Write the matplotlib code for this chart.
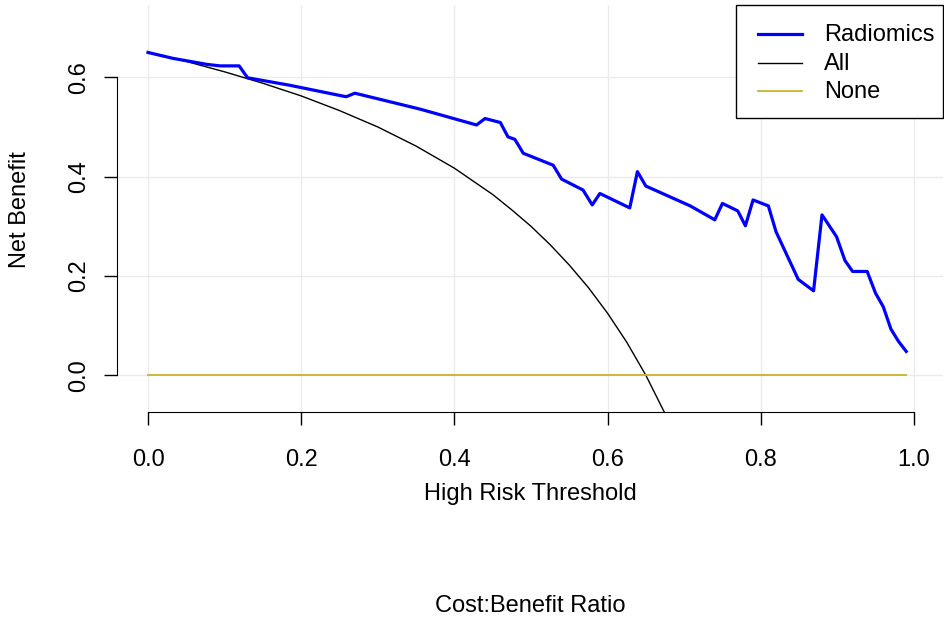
import matplotlib.pyplot as plt
import numpy as np
from matplotlib.patches import Rectangle
from matplotlib.lines import Line2D

plt.rcParams['font.family'] = ['Liberation Sans', 'DejaVu Sans']

# threshold probabilities and net benefit of the radiomics model
thr_model = [0.00, 0.033, 0.077, 0.094, 0.119, 0.130, 0.185, 0.255, 0.259, 0.270,
             0.355, 0.429, 0.440, 0.460, 0.470, 0.479, 0.490, 0.529, 0.540, 0.568,
             0.580, 0.590, 0.629, 0.639, 0.650, 0.679, 0.708, 0.740, 0.750, 0.770,
             0.780, 0.790, 0.810, 0.820, 0.849, 0.869, 0.880, 0.899, 0.910, 0.920,
             0.939, 0.950, 0.960, 0.970, 0.980, 0.990]
nb_model = [0.650, 0.638, 0.626, 0.623, 0.623, 0.599, 0.584, 0.562, 0.561, 0.568,
            0.536, 0.504, 0.517, 0.509, 0.480, 0.475, 0.447, 0.423, 0.395, 0.373,
            0.343, 0.366, 0.337, 0.410, 0.381, 0.361, 0.341, 0.313, 0.346, 0.331,
            0.301, 0.353, 0.341, 0.289, 0.193, 0.170, 0.323, 0.279, 0.231, 0.209,
            0.209, 0.165, 0.138, 0.093, 0.068, 0.048]

# treat-all curve
thr_all = [0.00, 0.05, 0.10, 0.15, 0.20, 0.25, 0.30, 0.35, 0.40, 0.45, 0.475,
           0.50, 0.525, 0.55, 0.575, 0.60, 0.625, 0.65, 0.675, 0.70]
nb_all = [0.650, 0.632, 0.611, 0.588, 0.5625, 0.533, 0.500, 0.4615, 0.417, 0.364, 0.333,
          0.300, 0.263, 0.222, 0.1765, 0.125, 0.0667, 0.000, -0.077, -0.167]

# treat-none
thr_none = [0.00, 0.99]
nb_none = [0.0, 0.0]

xticks = [0.0, 0.2, 0.4, 0.6, 0.8, 1.0]
yticks = [0.0, 0.2, 0.4, 0.6]

labels = ['Radiomics', 'All', 'None']
colors = ['#0000FF', 'black', '#C9B22E']
widths = [2.3, 1.0, 1.3]

fs = 17
W, H = 945, 622
fig = plt.figure(figsize=(9.45, 6.22), dpi=100)
ax = fig.add_axes([117/W, 1-412/H, 826/W, 407/H])

for xv in xticks:
    ax.axvline(xv, color='#EBEBEB', lw=1.0, zorder=0)
for yv in yticks:
    ax.axhline(yv, color='#EBEBEB', lw=1.0, zorder=0)

ax.plot(thr_model, nb_model, color=colors[0], lw=widths[0], zorder=3)
ax.plot(thr_all, nb_all, color=colors[1], lw=widths[1], zorder=2)
ax.plot(thr_none, nb_none, color=colors[2], lw=widths[2], zorder=2)

ax.set_xlim(-0.0405, 1.038)
ax.set_ylim(-0.074, 0.7456)

for s in ['top', 'right']:
    ax.spines[s].set_visible(False)
ax.spines['bottom'].set_bounds(0, 1)
ax.spines['left'].set_bounds(0, 0.6)

ax.set_xticks(xticks)
ax.set_xticklabels(['0.0', '0.2', '0.4', '0.6', '0.8', '1.0'], fontsize=fs)
ax.set_yticks(yticks)
ax.set_yticklabels(['0.0', '0.2', '0.4', '0.6'], fontsize=fs, rotation=90, va='center')
ax.tick_params(axis='both', direction='out', length=9.5, width=1.0)
ax.tick_params(axis='x', pad=17)
ax.tick_params(axis='y', pad=10)

fig.text(530/W, 1-494/H, 'High Risk Threshold', fontsize=fs, ha='center', va='center')
fig.text(530/W, 1-606/H, 'Cost:Benefit Ratio', fontsize=fs, ha='center', va='center')
fig.text(20/W, 1-210/H, 'Net Benefit', fontsize=fs, ha='center', va='center', rotation=90)

# legend box drawn like R's legend("topright")
fig.patches.append(Rectangle((736/W, 1-118/H), 207/W, 113/H, transform=fig.transFigure,
                             facecolor='white', edgecolor='black', lw=1.0, zorder=5))
row_y = [34, 62.5, 91]
for lab, col, lw, ry in zip(labels, colors, widths, row_y):
    fig.lines.append(Line2D([758/W, 802/W], [1-ry/H, 1-ry/H], transform=fig.transFigure,
                            color=col, lw=lw, zorder=6))
    fig.text(824/W, 1-(ry+1)/H, lab, fontsize=fs, ha='left', va='center', zorder=6)

fig.savefig('out.png', dpi=100)
